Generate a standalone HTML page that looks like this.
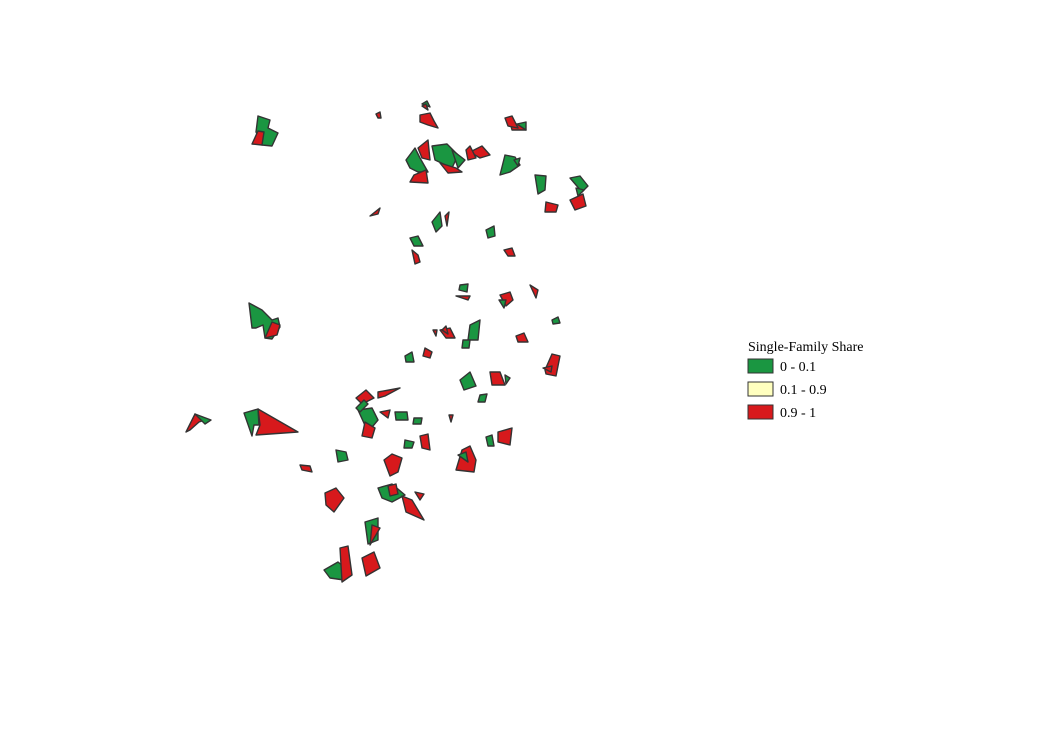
<!DOCTYPE html>
<html><head><meta charset="utf-8"><style>
body{margin:0;background:#fff;width:1052px;height:744px;overflow:hidden}
svg{display:block}
.g{fill:#1a9641}.r{fill:#d7191c}
polygon{stroke:#333;stroke-width:1.4;stroke-linejoin:round}
text{font-family:"Liberation Serif",serif;font-size:14px;fill:#000}
</style></head><body>
<svg width="1052" height="744">
<g id="tracts"></g>
<g>
<text x="748" y="351">Single-Family Share</text>
<rect x="748" y="359" width="25" height="14" fill="#1a9641" stroke="#333"/>
<text x="780" y="371">0 - 0.1</text>
<rect x="748" y="382" width="25" height="14" fill="#ffffbf" stroke="#333"/>
<text x="780" y="394">0.1 - 0.9</text>
<rect x="748" y="405" width="25" height="14" fill="#d7191c" stroke="#333"/>
<text x="780" y="417">0.9 - 1</text>
</g>
</svg>
<script>
const tractClasses=['g','r','g','r','r','g','r','g','r','g','r','g','r','r','g','r','g','r','g','r','g','r','g','r','r','g','r','g','r','g','r','g','r','r','g','r','g','r','g','r','g','r','r','g','r','g','r','g','r','r','g','r','g','r','g','r','r','g','r','g','r','g','r','g','r','r','g','r','g','r','g','r','r','r','g','r','g','r','r','g','r','g','r','r','g','r'];
const tractShapes=[
"258,116 270,120 268,128 278,133 272,146 262,145 256,132",
"252,144 258,131 264,132 262,145",
"249,303 262,310 272,320 278,318 280,327 272,339 265,338 263,325 256,328 252,328",
"265,338 272,322 280,325 277,335",
"258,409 298,432 256,435 260,425",
"244,413 258,409 259,425 254,425 252,436",
"186,432 195,414 205,420 199,422 190,430",
"195,414 211,420 205,424",
"420,115 430,113 434,121 438,128 428,125 420,122",
"422,104 427,101 430,107",
"376,114 380,112 381,118 378,118",
"406,160 415,148 420,158 428,172 418,172 410,168",
"414,175 426,170 428,183 410,182",
"418,148 428,140 430,160 422,158",
"432,146 447,144 458,155 452,168 435,160",
"440,163 456,168 462,172 448,173",
"452,150 465,160 458,168",
"470,152 482,146 490,155 480,158",
"505,155 515,157 520,165 510,172 500,175",
"510,122 520,125 526,130 512,130",
"535,175 546,176 545,190 538,194",
"546,202 558,205 556,212 545,212",
"570,178 580,176 588,186 582,192",
"570,200 583,194 586,206 575,210",
"370,216 380,208 378,214",
"432,222 440,212 442,226 436,232",
"445,216 449,212 447,226",
"410,238 418,236 423,246 414,246",
"412,250 418,255 420,262 415,264",
"486,230 494,226 495,236 488,238",
"504,250 512,248 515,256 508,256",
"460,285 468,284 467,292 459,290",
"456,296 470,296 468,300",
"500,295 510,292 513,300 506,306",
"499,300 506,300 504,308",
"530,285 538,290 536,298",
"552,320 558,317 560,323 553,324",
"516,336 524,333 528,342 518,342",
"470,325 480,320 478,340 468,340",
"440,330 450,328 455,338 446,338",
"463,340 470,340 469,348 462,348",
"545,370 552,354 560,356 556,376 546,374",
"543,368 552,366 551,372",
"405,356 412,352 414,362 406,362",
"425,348 432,352 430,358 423,356",
"460,380 470,372 476,386 464,390",
"490,372 500,372 505,385 492,385",
"480,395 487,394 485,402 478,402",
"356,398 366,390 374,398 362,404",
"378,392 400,388 385,396 378,398",
"358,410 372,408 378,420 368,432",
"365,422 375,428 372,438 362,436",
"395,412 407,412 408,420 396,420",
"380,412 390,410 388,418",
"414,418 422,418 421,424 413,424",
"449,415 453,415 451,422",
"462,450 470,446 476,460 474,472 456,470",
"458,455 466,452 468,462",
"498,432 512,428 510,445 498,442",
"486,437 492,435 494,446 488,446",
"420,436 428,434 430,450 422,448",
"405,440 414,442 412,448 404,448",
"300,465 310,466 312,472 302,470",
"336,450 346,452 348,460 338,462",
"384,460 392,454 402,458 398,472 390,476",
"325,493 336,488 344,498 334,512 326,505",
"378,488 392,484 405,495 392,502 382,498",
"402,496 412,500 424,520 406,512",
"365,522 378,518 378,540 368,544",
"372,525 380,528 370,545",
"324,570 338,562 348,570 344,580 330,578",
"340,548 348,546 352,575 342,582",
"362,558 374,552 380,568 366,576",
"505,118 512,116 518,128 508,126",
"517,124 526,122 526,130",
"466,150 470,146 476,158 468,160",
"576,188 584,190 578,196",
"442,330 446,326 448,334",
"433,330 437,330 436,336",
"514,160 520,158 518,166",
"422,106 426,104 428,110",
"356,408 364,400 368,404 360,412",
"388,486 396,484 398,494 390,496",
"415,492 424,494 420,500",
"505,375 510,378 506,384"
];
const g=document.getElementById('tracts');
tractShapes.forEach((pts,i)=>{
  const p=document.createElementNS('http://www.w3.org/2000/svg','polygon');
  p.setAttribute('points',pts);
  p.setAttribute('class',tractClasses[i%tractClasses.length]);
  
  
  g.appendChild(p);
});
</script>
</body></html>
